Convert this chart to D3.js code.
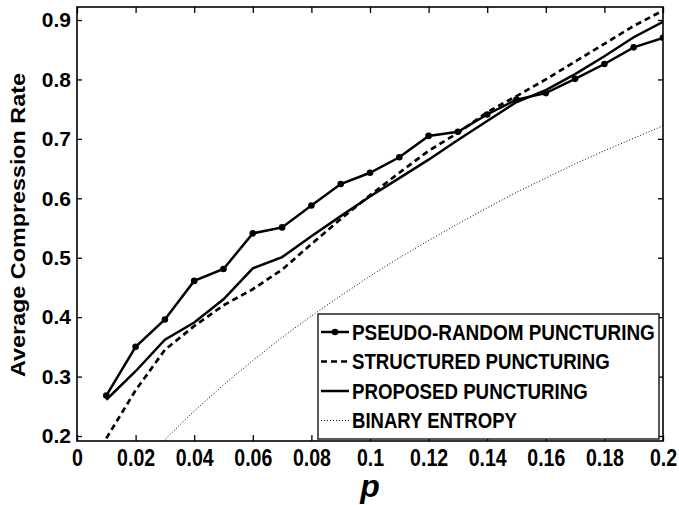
<!DOCTYPE html>
<html>
<head>
<meta charset="utf-8">
<script src="https://cdn.jsdelivr.net/npm/d3@7"></script>
<style>
  body { margin: 0; background: #fff; }
  svg { display: block; font-family: "Liberation Sans", Arial, sans-serif; font-weight: bold; }
</style>
</head>
<body>
<svg width="679" height="505"></svg>
<script>
const pValues = [0.01, 0.02, 0.03, 0.04, 0.05, 0.06, 0.07, 0.08, 0.09, 0.10,
                 0.11, 0.12, 0.13, 0.14, 0.15, 0.16, 0.17, 0.18, 0.19, 0.20];

const pseudoRandom = [0.268, 0.350, 0.396, 0.461, 0.481, 0.541, 0.551, 0.588, 0.624, 0.643,
                      0.669, 0.705, 0.712, 0.741, 0.766, 0.777, 0.801, 0.826, 0.854, 0.870];
const structured = [0.196, 0.277, 0.345, 0.385, 0.420, 0.447, 0.480, 0.523, 0.565, 0.605,
                    0.643, 0.680, 0.710, 0.745, 0.772, 0.800, 0.830, 0.860, 0.890, 0.916];
const proposed = [0.261, 0.309, 0.362, 0.391, 0.430, 0.482, 0.501, 0.536, 0.570, 0.603,
                  0.634, 0.665, 0.698, 0.730, 0.762, 0.782, 0.809, 0.839, 0.871, 0.897];
const binaryEntropy = [0.081, 0.141, 0.194, 0.242, 0.286, 0.327, 0.366, 0.402, 0.436, 0.469,
                       0.500, 0.529, 0.557, 0.584, 0.610, 0.634, 0.658, 0.680, 0.701, 0.722];

const xTicks = [0, 0.02, 0.04, 0.06, 0.08, 0.1, 0.12, 0.14, 0.16, 0.18, 0.2];
const yTicks = [0.2, 0.3, 0.4, 0.5, 0.6, 0.7, 0.8, 0.9];

const legendLabels = ["PSEUDO-RANDOM PUNCTURING", "STRUCTURED PUNCTURING",
                      "PROPOSED PUNCTURING", "BINARY ENTROPY"];
// the original uses a narrow bold face, so labels get squeezed to its widths
const legendWidths = [303, 258, 236, 165];

const plotLeft = 77, plotRight = 663, plotTop = 7, plotBottom = 441;

const svg = d3.select("svg");

const x = d3.scaleLinear().domain([0, 0.2]).range([plotLeft, plotRight]);
const y = d3.scaleLinear().domain([0.1916, 0.9219]).range([plotBottom, plotTop]);

// scale a text horizontally around its own x so it spans `w` pixels
function fitWidth(sel, w) {
  const natural = sel.node().getComputedTextLength();
  const k = w / natural;
  const x0 = +sel.attr("x") || 0;
  sel.attr("transform", `translate(${x0},0) scale(${k},1) translate(${-x0},0)`);
}

svg.append("clipPath").attr("id", "plot")
  .append("rect")
  .attr("x", plotLeft).attr("y", plotTop)
  .attr("width", plotRight - plotLeft).attr("height", plotBottom - plotTop);

// axes, ticks pointing inward on all four sides
const axisStyle = g => {
  g.select(".domain").remove();
  g.selectAll(".tick line").attr("stroke", "#000").attr("stroke-width", 1.3);
  g.selectAll(".tick text").attr("fill", "#000").style("font-weight", "bold");
};

svg.append("g")
  .attr("transform", `translate(0,${plotBottom})`)
  .call(d3.axisBottom(x).tickValues(xTicks).tickSize(-6).tickPadding(9)
    .tickFormat(d => d === 0 ? "0" : String(+d.toFixed(2))))
  .call(axisStyle)
  .call(g => g.selectAll(".tick text")
    .style("font-size", "23px")
    .attr("transform", "scale(0.85,1)"));

svg.append("g")
  .attr("transform", `translate(0,${plotTop})`)
  .call(d3.axisTop(x).tickValues(xTicks).tickSize(-6).tickFormat(""))
  .call(axisStyle);

svg.append("g")
  .attr("transform", `translate(${plotLeft},0)`)
  .call(d3.axisLeft(y).tickValues(yTicks).tickSize(-5).tickPadding(6).tickFormat(d3.format(".1f")))
  .call(axisStyle)
  .call(g => g.selectAll(".tick text").style("font-size", "21px"));

svg.append("g")
  .attr("transform", `translate(${plotRight},0)`)
  .call(d3.axisRight(y).tickValues(yTicks).tickSize(-5).tickFormat(""))
  .call(axisStyle);

svg.append("rect")
  .attr("x", plotLeft).attr("y", plotTop)
  .attr("width", plotRight - plotLeft).attr("height", plotBottom - plotTop)
  .attr("fill", "none").attr("stroke", "#000").attr("stroke-width", 1.6);

// series
const line = d3.line().x(d => x(d[0])).y(d => y(d[1]));
const plot = svg.append("g").attr("clip-path", "url(#plot)");

const series = [
  { values: pseudoRandom, dash: null, width: 2.5, markers: true },
  { values: structured, dash: "6,4", width: 2.7, markers: false },
  { values: proposed, dash: null, width: 2.5, markers: false },
  { values: binaryEntropy, dash: "1,2", width: 1, markers: false }
];

series.forEach(s => {
  const pts = pValues.map((p, i) => [p, s.values[i]]);
  plot.append("path")
    .attr("d", line(pts))
    .attr("fill", "none")
    .attr("stroke", "#000")
    .attr("stroke-width", s.width)
    .attr("stroke-dasharray", s.dash);
  if (s.markers) {
    plot.selectAll(null)
      .data(pts)
      .join("circle")
      .attr("cx", d => x(d[0]))
      .attr("cy", d => y(d[1]))
      .attr("r", 3.3)
      .attr("fill", "#000");
  }
});

// legend
const legend = svg.append("g");
legend.append("rect")
  .attr("x", 318).attr("y", 314)
  .attr("width", 341).attr("height", 125)
  .attr("fill", "#fff").attr("stroke", "#000").attr("stroke-width", 1.3);

series.forEach((s, i) => {
  const cy = 332 + i * 29.5;
  legend.append("line")
    .attr("x1", 321).attr("x2", 349)
    .attr("y1", cy).attr("y2", cy)
    .attr("stroke", "#000")
    .attr("stroke-width", s.width)
    .attr("stroke-dasharray", s.dash);
  if (s.markers) {
    legend.append("circle").attr("cx", 335).attr("cy", cy).attr("r", 3.3).attr("fill", "#000");
  }
  legend.append("text")
    .attr("x", 352).attr("y", cy)
    .attr("dy", "0.36em")
    .style("font-size", "22px")
    .text(legendLabels[i])
    .call(fitWidth, legendWidths[i]);
});

// axis titles
svg.append("g")
  .attr("transform", `translate(25,225) rotate(-90)`)
  .append("text")
  .attr("x", 0).attr("y", 0)
  .attr("text-anchor", "middle")
  .style("font-size", "21px")
  .text("Average Compression Rate")
  .call(fitWidth, 304);

svg.append("text")
  .attr("x", 370).attr("y", 497)
  .attr("text-anchor", "middle")
  .style("font-size", "32px")
  .style("font-style", "italic")
  .text("p");
</script>
</body>
</html>
